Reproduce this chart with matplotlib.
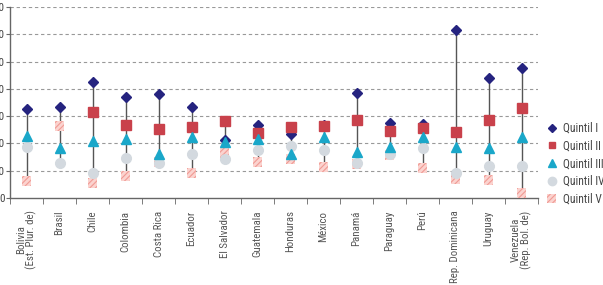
import numpy as np
import matplotlib
matplotlib.use("Agg")
import matplotlib.pyplot as plt
from matplotlib.lines import Line2D
from matplotlib import font_manager as fm

countries = ["Bolivia\n(Est. Plur. de)", "Brasil", "Chile", "Colombia", "Costa Rica",
             "Ecuador", "El Salvador", "Guatemala", "Honduras", "México", "Panamá",
             "Paraguay", "Perú", "Rep. Dominicana", "Uruguay", "Venezuela\n(Rep. Bol. de)"]
q1 = [32.6, 33.3, 42.5, 37.0, 38.1, 33.3, 21.2, 26.7, 23.4, 26.7, 38.5, 27.5, 27.1, 61.5, 44.0, 47.6]
q2 = [np.nan, np.nan, 31.5, 26.7, 25.3, 26.0, 28.2, 23.8, 26.0, 26.4, 28.6, 24.5, 25.6, 24.2, 28.6, 33.0]
q3 = [22.7, 18.3, 20.9, 21.6, 16.1, 22.3, 20.5, 21.6, 16.1, 22.3, 16.8, 18.7, 22.3, 18.7, 18.3, 22.3]
q4 = [18.7, 12.8, 9.2, 14.7, 12.8, 16.1, 14.3, 17.6, 19.0, 17.6, 12.8, 16.1, 18.3, 9.2, 11.7, 11.7]
q5 = [6.2, 26.4, 5.5, 8.1, 13.2, 9.2, 16.5, 13.2, 14.3, 11.4, 12.6, 15.8, 11.0, 7.0, 6.6, 1.8]
yticks = [0, 10, 20, 30, 40, 50, 60, 70]
labels = ["Quintil I", "Quintil II", "Quintil III", "Quintil IV", "Quintil V"]

available = {f.name for f in fm.fontManager.ttflist}
prefs = ["Roboto Condensed", "Archivo Narrow", "Liberation Sans Narrow", "PT Sans Narrow",
         "Asap Condensed", "Fira Sans Condensed", "Barlow Condensed", "Open Sans Condensed"]
chosen = [p for p in prefs if p in available][:1]
plt.rcParams['font.family'] = chosen + ["DejaVu Sans"]
plt.rcParams['hatch.linewidth'] = 0.8

fig = plt.figure(figsize=(6.03, 2.85), dpi=100)
ax = fig.add_axes([10/603, 1-198/285, 528/603, 191/285])

x = np.arange(len(countries))
data = np.array([q1, q2, q3, q4, q5], dtype=float)
ymax = np.nanmax(data, axis=0)
ymin = np.nanmin(data, axis=0)
ax.vlines(x, ymin, ymax, color="#555555", lw=1.0, zorder=2)

c1, c2, c3, c4 = "#25237f", "#c9414b", "#1aa7c9", "#d3d9df"
c5f, c5h = "#fbd3cf", "#f09a94"

ax.plot(x, q1, ls="none", marker="D", ms=5.5, color=c1, mec=c1, zorder=3)
ax.plot(x, q2, ls="none", marker="s", ms=7, color=c2, mec=c2, zorder=4)
ax.scatter(x, q5, marker="s", s=50, facecolor=c5f, edgecolor=c5h, linewidths=0,
           hatch="//////", zorder=5)
ax.plot(x, q4, ls="none", marker="o", ms=7, color=c4, mec=c4, zorder=6)
ax.plot(x, q3, ls="none", marker="^", ms=7, color=c3, mec=c3, zorder=7)

ax.set_xlim(-0.5, len(countries) - 0.5)
ax.set_ylim(0, 70)
ax.set_yticks(yticks)
ax.set_yticklabels([str(v) for v in yticks], fontsize=8, color="#444444")
ax.tick_params(axis="y", length=3, color="#666666", pad=1)
for v in yticks[1:]:
    ax.axhline(v, color="#999999", lw=0.8, ls=(0, (3, 2.5)), zorder=1)

ax.set_xticks(x)
ax.set_xticklabels(countries, rotation=90, fontsize=7.8, color="#555555",
                   ha="center", va="top", linespacing=0.95)
ax.tick_params(axis="x", which="major", length=0, pad=9)
ax.set_xticks(np.arange(-0.5, len(countries)), minor=True)
ax.tick_params(axis="x", which="minor", length=4, color="#666666")

for s in ["top", "right"]:
    ax.spines[s].set_visible(False)
for s in ["left", "bottom"]:
    ax.spines[s].set_color("#666666")
    ax.spines[s].set_linewidth(1.0)

handles = [
    Line2D([], [], ls="none", marker="D", ms=4.5, color=c1),
    Line2D([], [], ls="none", marker="s", ms=5, color=c2),
    Line2D([], [], ls="none", marker="^", ms=5.5, color=c3),
    Line2D([], [], ls="none", marker="o", ms=6, color=c4),
    plt.Rectangle((0, 0), 1, 1, facecolor=c5f, edgecolor=c5h, lw=0, hatch="//////"),
]
leg = fig.legend(handles, labels, loc="upper left", bbox_to_anchor=(547/603, 1-122/285),
                 frameon=False, fontsize=8.3, handlelength=0.8, handletextpad=0.55,
                 labelspacing=0.4, borderaxespad=0, borderpad=0, handleheight=0.8)
for t in leg.get_texts():
    t.set_color("#444444")

fig.savefig("out.png", dpi=100)
